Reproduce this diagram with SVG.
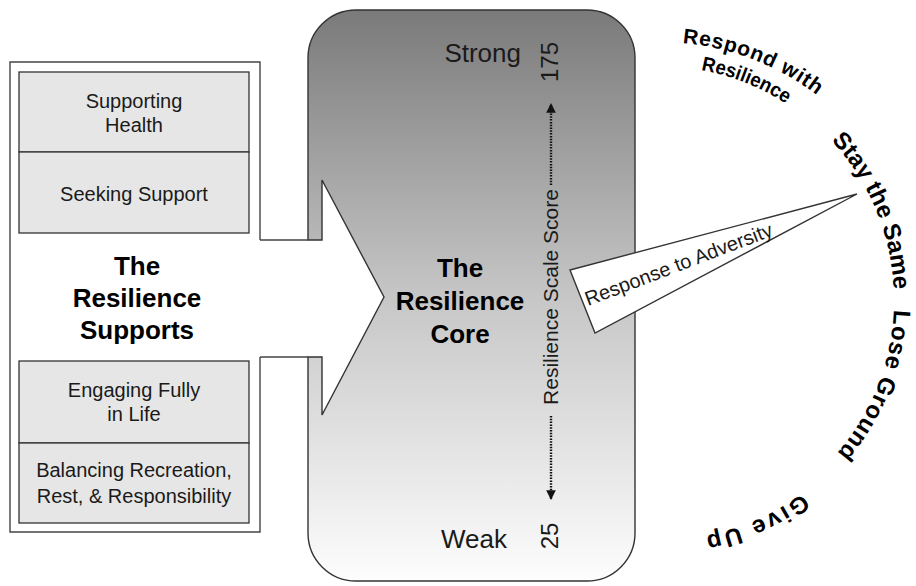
<svg xmlns="http://www.w3.org/2000/svg" width="916" height="586" viewBox="0 0 916 586">
<defs>
<linearGradient id="coreGrad" x1="0" y1="0" x2="0" y2="1">
<stop offset="0" stop-color="#7a7a7a"/>
<stop offset="0.5" stop-color="#c6c6c6"/>
<stop offset="1" stop-color="#fdfdfd"/>
</linearGradient>
<marker id="arrowHead" viewBox="0 0 10 10" refX="9" refY="5" markerWidth="4" markerHeight="4" orient="auto-start-reverse" markerUnits="strokeWidth">
<path d="M0,0 L10,5 L0,10 Z" fill="#111"/>
</marker>
<path id="arcRespond" d="M 682.5,43 A 258 258 0 0 1 857.6,134.2"/>
<path id="arcResilience" d="M 701,70 A 233 233 0 0 1 838.5,150.2"/>
<path id="arcStay" d="M 831.1,140.4 A 234 234 0 0 1 890.4,340.6"/>
<path id="arcLose" d="M 893.8,309.8 A 234 234 0 0 1 794.2,491.7"/>
<path id="arcGive" d="M 802.1,493.4 A 240 240 0 0 1 639.1,539.1"/>
</defs>
<style>
.txt { font-family: "Liberation Sans", Arial, sans-serif; fill: #1a1a1a; }
.item { font-size: 20px; text-anchor: middle; }
.title { font-size: 26px; font-weight: bold; text-anchor: middle; fill: #000; }
.scale { font-size: 26px; text-anchor: end; }
.arc { font-family: "Liberation Sans", Arial, sans-serif; font-weight: bold; fill: #000; }
.itemBox { fill: #e6e6e6; stroke: #333; stroke-width: 1.3; }
.line { fill: none; stroke: #444; stroke-width: 1.4; }
.dotted { fill: none; stroke: #111; stroke-width: 2.4; stroke-dasharray: 1.5 1.3; }
</style>

<g id="supports">
<path class="line" d="M 260,240 L 260,62 L 10,62 L 10,532 L 260,532 L 260,357" fill="#fff"/>
<text class="txt title" x="137" y="275">The</text>
<text class="txt title" x="137" y="307">Resilience</text>
<text class="txt title" x="137" y="339">Supports</text>
</g>

<g id="supporting-health">
<rect class="itemBox" x="19" y="72" width="230" height="80"/>
<text class="txt item" x="134" y="108">Supporting</text>
<text class="txt item" x="134" y="132">Health</text>
</g>
<g id="seeking-support">
<rect class="itemBox" x="19" y="152" width="230" height="81"/>
<text class="txt item" x="134" y="201">Seeking Support</text>
</g>
<g id="engaging-fully">
<rect class="itemBox" x="19" y="361" width="230" height="82"/>
<text class="txt item" x="134" y="397">Engaging Fully</text>
<text class="txt item" x="134" y="421">in Life</text>
</g>
<g id="balancing">
<rect class="itemBox" x="19" y="443" width="230" height="80"/>
<text class="txt item" x="134" y="477">Balancing Recreation,</text>
<text class="txt item" x="134" y="503">Rest, &amp; Responsibility</text>
</g>

<g id="core">
<path d="M 308,58 A 48 48 0 0 1 356,10 L 587,10 A 48 48 0 0 1 635,58 L 635,533 A 48 48 0 0 1 587,581 L 356,581 A 48 48 0 0 1 308,533 L 308,357 L 322,357 L 322,415 L 384,297 L 322,180 L 322,240 L 308,240 Z" fill="url(#coreGrad)" stroke="#333" stroke-width="1.4"/>
<text class="txt title" x="460" y="277">The</text>
<text class="txt title" x="460" y="310">Resilience</text>
<text class="txt title" x="460" y="343">Core</text>
<text class="txt scale" x="521" y="62">Strong</text>
<text class="txt scale" x="507" y="548">Weak</text>
<text class="txt" font-size="24" text-anchor="middle" transform="translate(558,62) rotate(-90)">175</text>
<text class="txt" font-size="24" text-anchor="middle" transform="translate(558,536) rotate(-90)">25</text>
<text class="txt" font-size="21" text-anchor="middle" transform="translate(558,297) rotate(-90)">Resilience Scale Score</text>
</g>

<g id="connectors">
<path class="line" d="M 260,240 L 308,240 M 260,357 L 308,357"/>
<path class="dotted" d="M 551,185 L 551,104" marker-end="url(#arrowHead)"/>
<path class="dotted" d="M 551,416 L 551,499" marker-end="url(#arrowHead)"/>
</g>

<g id="response-to-adversity">
<polygon points="570,270 857,194 595,333" fill="#fff" stroke="#333" stroke-width="1.4"/>
<text class="txt" font-size="20" transform="translate(588,306) rotate(-20.8)">Response to Adversity</text>
</g>

<g id="respond-with-resilience">
<text class="arc" font-size="21"><textPath href="#arcRespond" textLength="146" lengthAdjust="spacing">Respond with</textPath></text>
<text class="arc" font-size="20"><textPath href="#arcResilience" textLength="92" lengthAdjust="spacingAndGlyphs">Resilience</textPath></text>
</g>
<g id="stay-the-same">
<text class="arc" font-size="24"><textPath href="#arcStay" textLength="165" lengthAdjust="spacing">Stay the Same</textPath></text>
</g>
<g id="lose-ground">
<text class="arc" font-size="24"><textPath href="#arcLose" textLength="157" lengthAdjust="spacing">Lose Ground</textPath></text>
</g>
<g id="give-up">
<text class="arc" font-size="24"><textPath href="#arcGive" textLength="106" lengthAdjust="spacing">Give Up</textPath></text>
</g>
</svg>
